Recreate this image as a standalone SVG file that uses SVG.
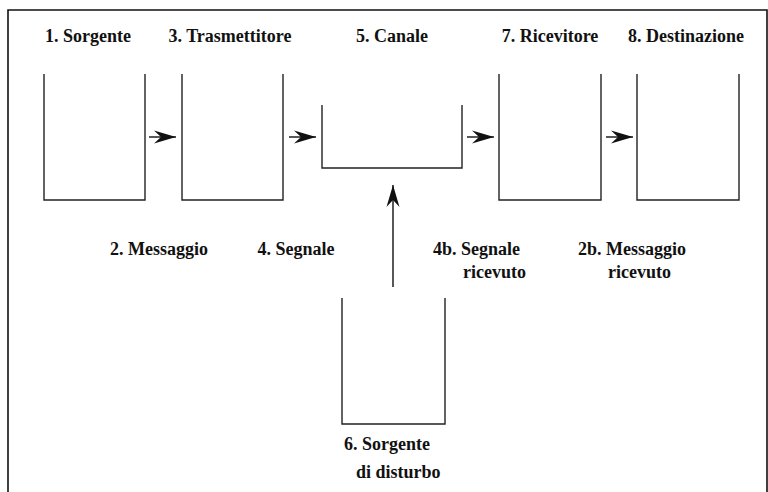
<svg xmlns="http://www.w3.org/2000/svg" width="768" height="492" viewBox="0 0 768 492">
  <style>
    .box { fill: none; stroke: #222; stroke-width: 1.4; }
    .frame { fill: none; stroke: #111; stroke-width: 1.6; }
    .lbl { font-family: "Liberation Serif", "DejaVu Serif", "Times New Roman", serif; font-weight: bold; font-size: 18px; fill: #111; }
    .mid { text-anchor: middle; }
    .wire { stroke: #111; stroke-width: 1.4; fill: none; marker-end: url(#head); }
  </style>
  <defs>
    <marker id="head" markerUnits="userSpaceOnUse" markerWidth="24" markerHeight="16" viewBox="-23 -8 24 16" refX="0" refY="0" orient="auto">
      <path d="M0,0 L-22,-6.5 L-15,0 L-22,6.5 Z" fill="#111"/>
    </marker>
  </defs>
  <rect width="768" height="492" fill="#fff"/>

  <!-- outer frame, open at the bottom -->
  <path class="frame" d="M8,492 V10 H767 V492"/>

  <g id="sorgente">
    <path class="box" d="M44,74 V200 H145 V74"/>
    <text class="lbl mid" x="88" y="42">1. Sorgente</text>
  </g>
  <g id="trasmettitore">
    <path class="box" d="M182,74 V200 H283 V74"/>
    <text class="lbl mid" x="230" y="42">3. Trasmettitore</text>
  </g>
  <g id="canale">
    <path class="box" d="M322,105 V168 H462 V105"/>
    <text class="lbl mid" x="392" y="42">5. Canale</text>
  </g>
  <g id="ricevitore">
    <path class="box" d="M499,74 V200 H601 V74"/>
    <text class="lbl mid" x="550" y="42">7. Ricevitore</text>
  </g>
  <g id="destinazione">
    <path class="box" d="M637,74 V200 H739 V74"/>
    <text class="lbl mid" x="686" y="42">8. Destinazione</text>
  </g>
  <g id="disturbo">
    <path class="box" d="M342,298 V424 H445 V298"/>
    <text class="lbl" x="344" y="450">6. Sorgente</text>
    <text class="lbl" x="356" y="478">di disturbo</text>
  </g>

  <g id="connectors">
    <line class="wire" x1="149" y1="137" x2="176" y2="137"/>
    <line class="wire" x1="289" y1="137" x2="316" y2="137"/>
    <line class="wire" x1="467" y1="137" x2="494" y2="137"/>
    <line class="wire" x1="606" y1="137" x2="633" y2="137"/>
    <line class="wire" x1="393" y1="287" x2="393" y2="185"/>
  </g>

  <g id="labels">
    <text class="lbl mid" x="159" y="255">2. Messaggio</text>
    <text class="lbl mid" x="296" y="255">4. Segnale</text>
    <text class="lbl" x="433" y="255">4b. Segnale</text>
    <text class="lbl" x="463" y="278">ricevuto</text>
    <text class="lbl" x="578" y="255">2b. Messaggio</text>
    <text class="lbl" x="608" y="278">ricevuto</text>
  </g>
</svg>
